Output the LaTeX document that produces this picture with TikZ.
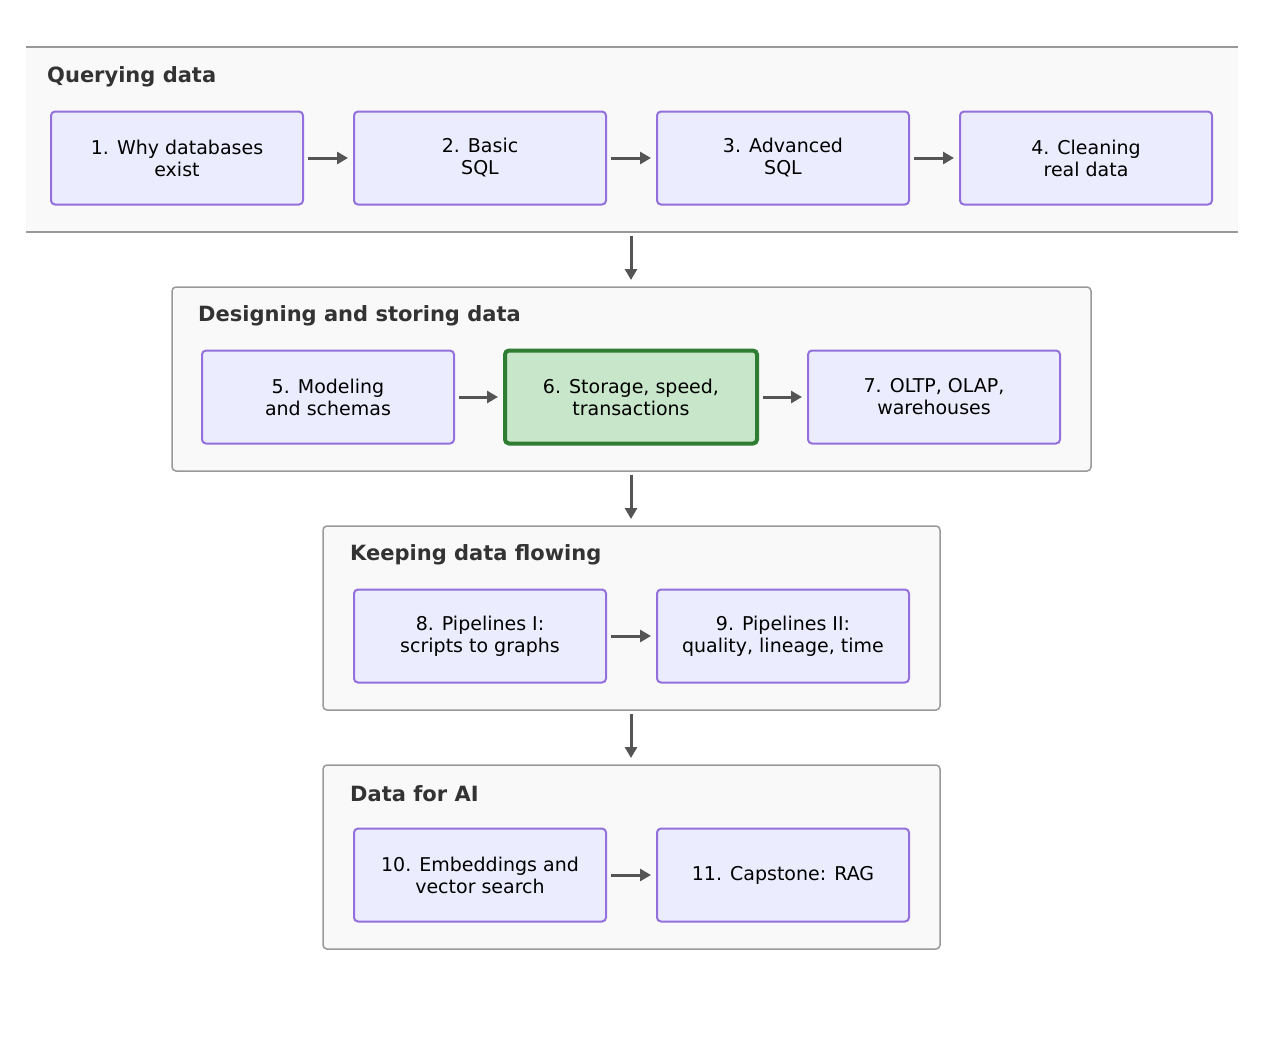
\documentclass[tikz,border=0pt]{standalone}
\usepackage{fontspec}
\setmainfont{DejaVu Sans}
\usetikzlibrary{arrows.meta}
\definecolor{grpfill}{HTML}{F9F9F9}
\definecolor{grpline}{HTML}{999999}
\definecolor{boxfill}{HTML}{ECECFF}
\definecolor{boxline}{HTML}{9370DB}
\definecolor{hlfill}{HTML}{C8E6C9}
\definecolor{hlline}{HTML}{2E7D32}
\definecolor{arr}{HTML}{555555}
\definecolor{ttl}{HTML}{333333}
\begin{document}
\begin{tikzpicture}[x=1pt,y=-1pt,
  grp/.style={draw=grpline,fill=grpfill,line width=1.5pt,rounded corners=4pt},
  stepbox/.style={draw=boxline,fill=boxfill,line width=2pt,rounded corners=4pt,minimum width=252pt,minimum height=93pt,align=center,font=\fontsize{19}{22}\selectfont,inner sep=0pt},
  hlbox/.style={stepbox,draw=hlline,fill=hlfill,line width=4pt},
  gtitle/.style={anchor=west,font=\bfseries\fontsize{21}{24}\selectfont,text=ttl,inner sep=0pt},
  conn/.style={draw=arr,line width=3pt,-{Triangle[length=11pt,width=12pt]}}]
\useasboundingbox (0,0) rectangle (1263,1045);
% group 1 (clipped)
\fill[grpfill] (26,47) rectangle (1238,232);
\draw[grpline,line width=1.5pt] (26,47) -- (1238,47) (26,232) -- (1238,232);
\node[gtitle] (t1) at (47,77) {Querying data};
\node[stepbox] (n1) at (177,158) {1. Why databases\\exist};
\node[stepbox] (n2) at (480,158) {2. Basic\\SQL};
\node[stepbox] (n3) at (783,158) {3. Advanced\\SQL};
\node[stepbox] (n4) at (1086,158) {4. Cleaning\\real data};
% group 2
\draw[grp] (172,287) rectangle (1091,471);
\node[gtitle] (t2) at (198,316) {Designing and storing data};
\node[stepbox] (n5) at (328,397) {5. Modeling\\and schemas};
\node[hlbox] (n6) at (631,397) {6. Storage, speed,\\transactions};
\node[stepbox] (n7) at (934,397) {7. OLTP, OLAP,\\warehouses};
% group 3
\draw[grp] (323,526) rectangle (940,710);
\node[gtitle] (t3) at (350,555) {Keeping data flowing};
\node[stepbox] (n8) at (480,636) {8. Pipelines I:\\scripts to graphs};
\node[stepbox] (n9) at (783,636) {9. Pipelines II:\\quality, lineage, time};
% group 4
\draw[grp] (323,765) rectangle (940,949);
\node[gtitle] (t4) at (350,794) {Data for AI};
\node[stepbox] (n10) at (480,875) {10. Embeddings and\\vector search};
\node[stepbox] (n11) at (783,875) {11. Capstone: RAG};
% arrows
\draw[conn] ([xshift=4pt]n1.east) -- ([xshift=-5pt]n2.west);
\draw[conn] ([xshift=4pt]n2.east) -- ([xshift=-5pt]n3.west);
\draw[conn] ([xshift=4pt]n3.east) -- ([xshift=-5pt]n4.west);
\draw[conn] ([xshift=4pt]n5.east) -- ([xshift=-5pt]n6.west);
\draw[conn] ([xshift=4pt]n6.east) -- ([xshift=-5pt]n7.west);
\draw[conn] ([xshift=4pt]n8.east) -- ([xshift=-5pt]n9.west);
\draw[conn] ([xshift=4pt]n10.east) -- ([xshift=-5pt]n11.west);
\coordinate (a1) at (631,236); \coordinate (b1) at (631,280);
\coordinate (a2) at (631,475); \coordinate (b2) at (631,519);
\coordinate (a3) at (631,714); \coordinate (b3) at (631,758);
\draw[conn] (a1) -- (b1);
\draw[conn] (a2) -- (b2);
\draw[conn] (a3) -- (b3);
\end{tikzpicture}
\end{document}
